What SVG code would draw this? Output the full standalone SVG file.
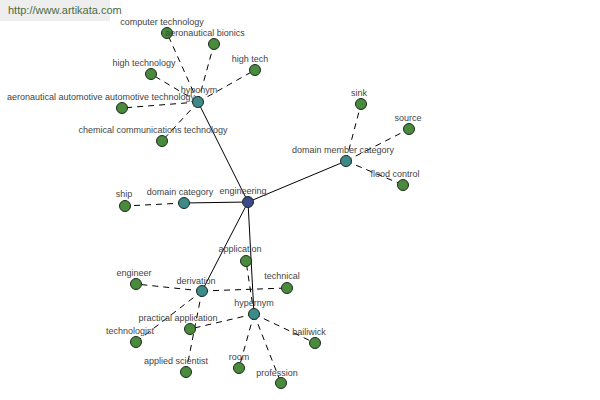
<svg xmlns="http://www.w3.org/2000/svg" width="600" height="400" viewBox="0 0 600 400">
<style>
.e{stroke:#000;stroke-width:1;fill:none}
.d{stroke-dasharray:6,5}
.n{stroke:#1a2a1a;stroke-width:1}
.g{fill:#4a8a3c}
.t{fill:#3d8a8a}
.b{fill:#3c4a8c}
text{font-family:"Liberation Sans",Arial,sans-serif;font-size:9px;fill:#444;text-anchor:middle}
</style>
<rect width="600" height="400" fill="#fff"/>
<rect x="0" y="0" width="110" height="21" fill="#eeeeee"/>
<text x="8" y="14" style="font-size:11px;fill:#4d6b3c;text-anchor:start">http://www.artikata.com</text>
<g id="connectors">
<line class="e" x1="248" y1="202" x2="198" y2="102"/>
<line class="e" x1="248" y1="202" x2="346" y2="161"/>
<line class="e" x1="248" y1="202" x2="184" y2="203"/>
<line class="e" x1="248" y1="202" x2="202" y2="291"/>
<line class="e" x1="248" y1="202" x2="254" y2="314"/>
<line class="e d" x1="198" y1="102" x2="167" y2="33"/>
<line class="e d" x1="198" y1="102" x2="214" y2="44"/>
<line class="e d" x1="198" y1="102" x2="151" y2="74"/>
<line class="e d" x1="198" y1="102" x2="255" y2="70"/>
<line class="e d" x1="198" y1="102" x2="122" y2="108"/>
<line class="e d" x1="198" y1="102" x2="162" y2="141"/>
<line class="e d" x1="346" y1="161" x2="361" y2="104"/>
<line class="e d" x1="346" y1="161" x2="409" y2="129"/>
<line class="e d" x1="346" y1="161" x2="403" y2="185"/>
<line class="e d" x1="184" y1="203" x2="125" y2="206"/>
<line class="e d" x1="202" y1="291" x2="136" y2="284"/>
<line class="e d" x1="202" y1="291" x2="287" y2="288"/>
<line class="e d" x1="202" y1="291" x2="136" y2="342"/>
<line class="e d" x1="202" y1="291" x2="186" y2="372"/>
<line class="e d" x1="254" y1="314" x2="246" y2="261"/>
<line class="e d" x1="254" y1="314" x2="190" y2="329"/>
<line class="e d" x1="254" y1="314" x2="315" y2="343"/>
<line class="e d" x1="254" y1="314" x2="239" y2="368"/>
<line class="e d" x1="254" y1="314" x2="281" y2="383"/>
</g>
<g id="engineering"><circle class="n b" cx="248" cy="202" r="5.5"/><text x="243" y="194">engineering</text></g>
<g id="hyponym"><circle class="n t" cx="198" cy="102" r="5.5"/><text x="199" y="93">hyponym</text></g>
<g id="domain-member-category"><circle class="n t" cx="346" cy="161" r="5.5"/><text x="343" y="153">domain member category</text></g>
<g id="domain-category"><circle class="n t" cx="184" cy="203" r="5.5"/><text x="180" y="195">domain category</text></g>
<g id="derivation"><circle class="n t" cx="202" cy="291" r="5.5"/><text x="196" y="284">derivation</text></g>
<g id="hypernym"><circle class="n t" cx="254" cy="314" r="5.5"/><text x="254" y="306">hypernym</text></g>
<g id="computer-technology"><circle class="n g" cx="167" cy="33" r="5.5"/><text x="162" y="25">computer technology</text></g>
<g id="aeronautical-bionics"><circle class="n g" cx="214" cy="44" r="5.5"/><text x="205" y="36">aeronautical bionics</text></g>
<g id="high-technology"><circle class="n g" cx="151" cy="74" r="5.5"/><text x="144" y="66">high technology</text></g>
<g id="high-tech"><circle class="n g" cx="255" cy="70" r="5.5"/><text x="250" y="62">high tech</text></g>
<g id="aeronautical-automotive"><circle class="n g" cx="122" cy="108" r="5.5"/><text x="101" y="100">aeronautical automotive automotive technology</text></g>
<g id="chemical-communications"><circle class="n g" cx="162" cy="141" r="5.5"/><text x="153" y="133">chemical communications technology</text></g>
<g id="sink"><circle class="n g" cx="361" cy="104" r="5.5"/><text x="359" y="96">sink</text></g>
<g id="source"><circle class="n g" cx="409" cy="129" r="5.5"/><text x="408" y="121">source</text></g>
<g id="flood-control"><circle class="n g" cx="403" cy="185" r="5.5"/><text x="395" y="177">flood control</text></g>
<g id="ship"><circle class="n g" cx="125" cy="206" r="5.5"/><text x="124" y="197">ship</text></g>
<g id="application"><circle class="n g" cx="246" cy="261" r="5.5"/><text x="240" y="252">application</text></g>
<g id="engineer"><circle class="n g" cx="136" cy="284" r="5.5"/><text x="134" y="276">engineer</text></g>
<g id="technical"><circle class="n g" cx="287" cy="288" r="5.5"/><text x="282" y="279">technical</text></g>
<g id="practical-application"><circle class="n g" cx="190" cy="329" r="5.5"/><text x="178" y="321">practical application</text></g>
<g id="technologist"><circle class="n g" cx="136" cy="342" r="5.5"/><text x="130" y="334">technologist</text></g>
<g id="bailiwick"><circle class="n g" cx="315" cy="343" r="5.5"/><text x="309" y="335">bailiwick</text></g>
<g id="applied-scientist"><circle class="n g" cx="186" cy="372" r="5.5"/><text x="176" y="364">applied scientist</text></g>
<g id="room"><circle class="n g" cx="239" cy="368" r="5.5"/><text x="239" y="360">room</text></g>
<g id="profession"><circle class="n g" cx="281" cy="383" r="5.5"/><text x="277" y="376">profession</text></g>
</svg>
